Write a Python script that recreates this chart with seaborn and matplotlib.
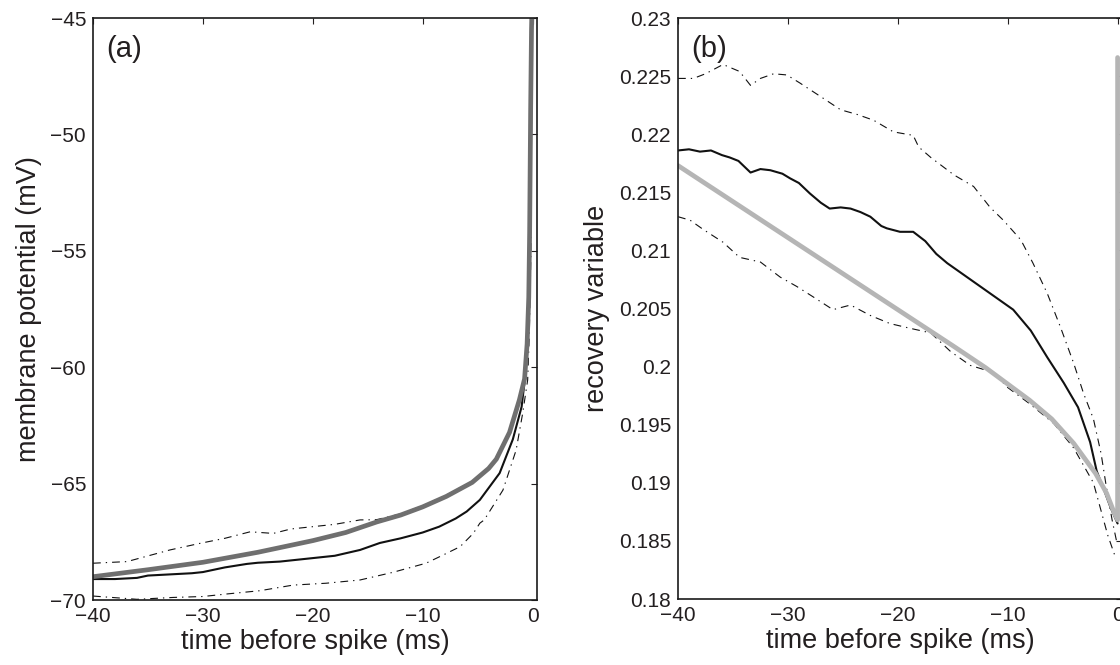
import numpy as np
import pandas as pd
import matplotlib
matplotlib.use("Agg")
import matplotlib.pyplot as plt
import seaborn as sns
from matplotlib.ticker import FuncFormatter, FixedLocator

# ---------------- data: panel (a) membrane potential ----------------
t_a_model = [-40, -35, -30, -25, -20, -17, -14.2, -12, -10, -7.85, -5.5, -4.0, -3.3,
             -2.1, -1.2, -0.73, -0.5, -0.35, -0.27, -0.18, -0.1, -0.03]
v_a_model = [-69.0, -68.7, -68.38, -67.95, -67.45, -67.1, -66.65, -66.35, -66.0, -65.55,
             -64.95, -64.35, -63.95, -62.8, -61.4, -60.5, -59.0, -57.0, -54.2, -49.0,
             -45.5, -44.0]

t_a_mean = [-40, -38, -36, -35, -33, -31, -30, -28, -26, -25, -23, -21, -20, -18,
            -15.7, -13.9, -12, -10, -8.5, -7, -6, -4.8, -3.0, -1.8, -1.0, -0.7, -0.4,
            -0.2, -0.05]
v_a_mean = [-69.1, -69.1, -69.05, -68.95, -68.9, -68.85, -68.8, -68.6, -68.45, -68.4,
            -68.35, -68.25, -68.2, -68.1, -67.85, -67.55, -67.35, -67.1, -66.85, -66.5,
            -66.2, -65.7, -64.55, -63.1, -61.7, -60.5, -58.0, -54.0, -44.0]

t_a_upper = [-40, -36.9, -33.0, -30.3, -28, -25.7, -23.6, -22, -20, -18, -15.7, -14.2,
             -12, -10, -7.85, -5.5, -4.0, -3.3, -2.1, -1.2, -0.73, -0.5, -0.35, -0.27,
             -0.18, -0.1, -0.03]
v_a_upper = [-68.42, -68.35, -67.85, -67.57, -67.35, -67.07, -67.14, -66.95, -66.85,
             -66.75, -66.56, -66.55, -66.3, -65.95, -65.5, -64.9, -64.3, -63.9, -62.75,
             -61.35, -60.45, -58.95, -56.95, -54.15, -48.95, -45.45, -44.0]

t_a_lower = [-40, -36.0, -32.7, -30, -27.8, -24.8, -21.8, -18.8, -15.7, -12.7, -9.7,
             -8.15, -6.6, -5.4, -4.8, -4.4, -2.7, -1.5, -0.9, -0.45, -0.3, -0.15, -0.05]
v_a_lower = [-69.83, -69.97, -69.89, -69.85, -69.74, -69.6, -69.36, -69.28, -69.14,
             -68.81, -68.42, -68.07, -67.71, -67.14, -66.7, -66.56, -65.28, -63.56,
             -61.97, -60.55, -58.6, -55.0, -44.0]

# ---------------- data: panel (b) recovery variable ----------------
t_b_model = [-40, -30, -20, -15, -12, -10, -8, -6, -4, -2, -1, -0.3, 0.0, 0.0]
u_b_model = [0.2173, 0.2111, 0.2049, 0.2018, 0.1999, 0.1985, 0.1971, 0.1955, 0.1934,
             0.1908, 0.1891, 0.1874, 0.1868, 0.2266]

t_b_mean = [-40, -39, -38, -37, -36, -35.3, -34.5, -33.4, -32.5, -31.6, -30.5, -29.8,
            -29, -28, -27, -26.2, -25.2, -24.3, -23.4, -22.5, -21.5, -21, -19.8, -18.6,
            -17.5, -16.5, -15.5, -14, -12.5, -11, -9.5, -7.9, -6.4, -4.9, -3.6, -2.5,
            -1.9, -1.2, -0.65, 0.0]
u_b_mean = [0.2186, 0.2187, 0.2185, 0.2186, 0.2182, 0.2180, 0.2177, 0.2167, 0.2170,
            0.2169, 0.2166, 0.2162, 0.2158, 0.2149, 0.2141, 0.2136, 0.2137, 0.2136,
            0.2133, 0.2129, 0.2121, 0.2119, 0.2116, 0.2116, 0.2108, 0.2097, 0.2089,
            0.2079, 0.2069, 0.2059, 0.2049, 0.2031, 0.2008, 0.1986, 0.1965, 0.1935,
            0.1910, 0.1893, 0.1879, 0.1865]

t_b_upper = [-40, -38.6, -37.5, -35.9, -34.4, -33.4, -32.5, -31.3, -30.1, -28.9, -26.8,
             -25.2, -23.7, -22.2, -20.4, -18.6, -18.1, -17.0, -14.9, -13.1, -11.6,
             -10.4, -8.8, -7.7, -6.4, -5.2, -4.0, -3.1, -2.2, -1.5, -1.0, -0.5, -0.1]
u_b_upper = [0.2248, 0.2248, 0.2252, 0.2260, 0.2254, 0.2242, 0.2248, 0.2252, 0.2251,
             0.2244, 0.2231, 0.2221, 0.2217, 0.2212, 0.2202, 0.2199, 0.2189, 0.2180,
             0.2165, 0.2155, 0.2137, 0.2126, 0.2109, 0.2089, 0.2063, 0.2034, 0.2003,
             0.1977, 0.1955, 0.1925, 0.1895, 0.1868, 0.1850]

t_b_lower = [-40, -38.9, -37.7, -35.9, -34.4, -32.5, -30.7, -29.2, -27.7, -25.9, -24.3,
             -22.5, -20.7, -18.9, -17.0, -15.2, -13.4, -11.3, -10.0, -8.0, -5.8, -4.0,
             -2.2, -0.9, -0.2]
u_b_lower = [0.2129, 0.2126, 0.2118, 0.2107, 0.2094, 0.2090, 0.2077, 0.2069, 0.2060,
             0.2049, 0.2053, 0.2044, 0.2037, 0.2033, 0.2029, 0.2013, 0.2001, 0.1995,
             0.1982, 0.1968, 0.1951, 0.1930, 0.1900, 0.1855, 0.1836]

x_ticks = [-40, -30, -20, -10, 0]
y_ticks_a = [-70, -65, -60, -55, -50, -45]
y_ticks_b = [0.18, 0.185, 0.19, 0.195, 0.2, 0.205, 0.21, 0.215, 0.22, 0.225, 0.23]

# ---------------- styling ----------------
sns.set_style("white")
plt.rcParams["font.family"] = ["Liberation Sans", "DejaVu Sans"]
TXT = "#231f20"
dashdot = (0, (7, 4.5, 1.2, 4.5))

fig = plt.figure(figsize=(11.2, 6.65), dpi=100)
W, H = 1120, 665
axA = fig.add_axes([93 / W, (H - 600) / H, 444 / W, 582 / H])
axB = fig.add_axes([678 / W, (H - 599) / H, 444 / W, 581 / H])


def fmt(v, pos):
    s = "{:g}".format(round(v, 4))
    return s.replace("-", "\u2212")


def draw(ax, t, v, color, lw, ls="-"):
    df = pd.DataFrame({"t": t, "v": v})
    sns.lineplot(data=df, x="t", y="v", ax=ax, color=color, linewidth=lw,
                 linestyle=ls, estimator=None, sort=False, legend=False)


# panel (a)
draw(axA, t_a_upper, v_a_upper, "#111111", 0.8, dashdot)
draw(axA, t_a_lower, v_a_lower, "#111111", 0.8, dashdot)
draw(axA, t_a_mean, v_a_mean, "#111111", 1.5)
draw(axA, t_a_model, v_a_model, "#6f6f6f", 3.4)

# panel (b)
draw(axB, t_b_upper, u_b_upper, "#111111", 0.8, dashdot)
draw(axB, t_b_lower, u_b_lower, "#111111", 0.8, dashdot)
draw(axB, t_b_mean, u_b_mean, "#111111", 1.5)
draw(axB, t_b_model, u_b_model, "#b5b5b5", 3.4)

for ax, yt, ylim, ylabel, tag in [
    (axA, y_ticks_a, (-70, -45), "membrane potential (mV)", "(a)"),
    (axB, y_ticks_b, (0.18, 0.23), "recovery variable", "(b)"),
]:
    ax.set_xlim(-40, 0.4)
    ax.set_ylim(*ylim)
    ax.xaxis.set_major_locator(FixedLocator(x_ticks))
    ax.yaxis.set_major_locator(FixedLocator(yt))
    ax.xaxis.set_major_formatter(FuncFormatter(fmt))
    ax.yaxis.set_major_formatter(FuncFormatter(fmt))
    ax.tick_params(direction="in", length=4.5, width=0.8, top=True, right=True,
                   labelsize=15, colors=TXT, pad=5)
    for sp in ax.spines.values():
        sp.set_visible(True)
        sp.set_linewidth(1.2)
        sp.set_color("#1a1a1a")
    ax.set_xlabel("time before spike (ms)", fontsize=19.5, color=TXT, labelpad=2)
    ax.set_ylabel(ylabel, fontsize=19.5, color=TXT, labelpad=6)
    ax.text(0.03, 0.97, tag, transform=ax.transAxes, fontsize=21, color=TXT,
            ha="left", va="top")
    ax.set_facecolor("white")
    ax.grid(False)

fig.savefig("out.png", dpi=100, facecolor="white")
